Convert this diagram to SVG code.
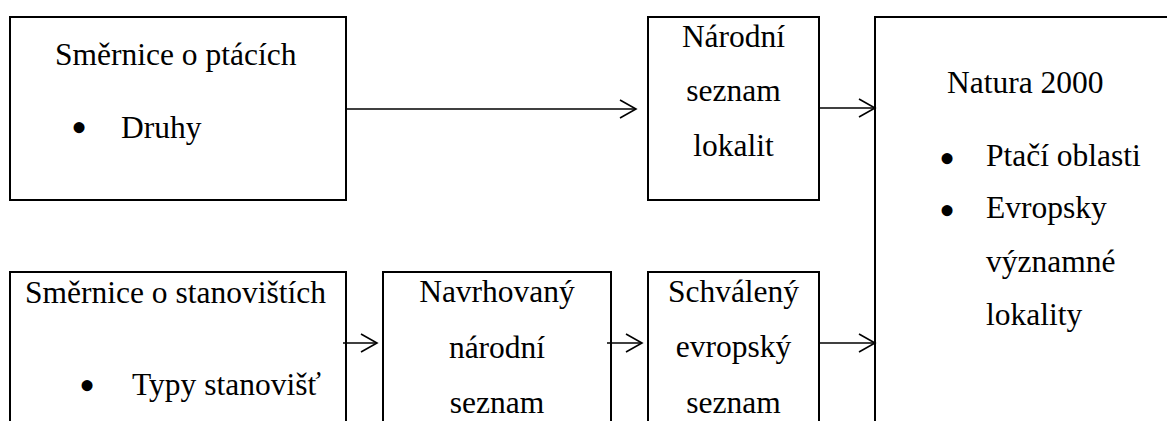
<svg xmlns="http://www.w3.org/2000/svg" width="1167" height="421" viewBox="0 0 1167 421">
<style>
.box{fill:#fff;stroke:#000;stroke-width:2}
.t{font-family:"Liberation Serif","Times New Roman",serif;font-size:31.5px;fill:#000}
.c{text-anchor:middle}
.b{font-family:"Liberation Serif","Times New Roman",serif;font-size:46px;fill:#000;text-anchor:middle}
.conn{stroke:#000;stroke-width:1.6;fill:none;marker-end:url(#ah)}
</style>
<defs>
<marker id="ah" markerUnits="userSpaceOnUse" markerWidth="20" markerHeight="22" refX="17" refY="10" orient="auto" viewBox="0 0 20 22">
<path d="M1,1 L17,10 L1,19" fill="none" stroke="#000" stroke-width="1.6"/>
</marker>
</defs>
<rect width="1167" height="421" fill="#fff"/>
<g id="smernice-ptaci">
<rect class="box" x="10" y="17" width="336" height="183"/>
<text class="t" x="55" y="65">Směrnice o ptácích</text>
<text class="b" x="79" y="143">•</text>
<text class="t" x="121" y="138">Druhy</text>
</g>
<g id="narodni-seznam">
<rect class="box" x="648" y="17" width="171" height="183"/>
<text class="t c" x="733.5" y="47">Národní</text>
<text class="t c" x="733.5" y="101">seznam</text>
<text class="t c" x="733.5" y="156">lokalit</text>
</g>
<g id="natura">
<rect class="box" x="875" y="17" width="400" height="500"/>
<text class="t" x="947" y="93">Natura 2000</text>
<text class="b" x="947" y="174">•</text>
<text class="t" x="986" y="166">Ptačí oblasti</text>
<text class="b" x="947" y="226">•</text>
<text class="t" x="986" y="218">Evropsky</text>
<text class="t" x="986" y="272">významné</text>
<text class="t" x="986" y="325">lokality</text>
</g>
<g id="smernice-stanoviste">
<rect class="box" x="10" y="272" width="336" height="200"/>
<text class="t" x="25" y="303">Směrnice o stanovištích</text>
<text class="b" x="87" y="401">•</text>
<text class="t" x="132" y="395">Typy stanovišť</text>
</g>
<g id="navrhovany">
<rect class="box" x="383" y="272" width="228" height="200"/>
<text class="t c" x="497" y="302">Navrhovaný</text>
<text class="t c" x="497" y="358">národní</text>
<text class="t c" x="497" y="413">seznam</text>
</g>
<g id="schvaleny">
<rect class="box" x="648" y="272" width="171" height="200"/>
<text class="t c" x="733.5" y="302">Schválený</text>
<text class="t c" x="733.5" y="357">evropský</text>
<text class="t c" x="733.5" y="413">seznam</text>
</g>
<g id="connectors">
<line class="conn" x1="346" y1="109" x2="636" y2="109"/>
<line class="conn" x1="819" y1="108" x2="875" y2="108"/>
<line class="conn" x1="343" y1="343" x2="377" y2="343"/>
<line class="conn" x1="607" y1="343" x2="642" y2="343"/>
<line class="conn" x1="819" y1="343" x2="875" y2="343"/>
</g>
</svg>
